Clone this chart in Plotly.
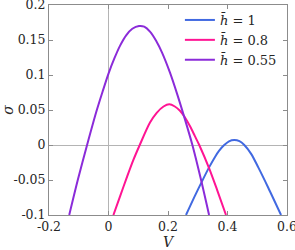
import plotly.graph_objects as go

# --- data ---
V_h1 = [0.2605, 0.29, 0.313, 0.338, 0.358, 0.372, 0.389, 0.405, 0.4228, 0.44, 0.4565, 0.48, 0.5035, 0.537, 0.58]
S_h1 = [-0.1, -0.073, -0.053, -0.032, -0.017, -0.008, 0.0, 0.0053, 0.0071, 0.0055, 0.0, -0.013, -0.032, -0.061, -0.1]

V_h08 = [0.0165, 0.04, 0.061, 0.083, 0.105, 0.1395, 0.162, 0.185, 0.2044, 0.223, 0.2403, 0.256, 0.275, 0.29, 0.305, 0.338, 0.365, 0.395]
S_h08 = [-0.1, -0.072, -0.047, -0.022, 0.0, 0.032, 0.046, 0.055, 0.0581, 0.055, 0.049, 0.04, 0.026, 0.013, 0.0, -0.033, -0.064, -0.1]

V_h055 = [-0.132, -0.102, -0.072, -0.042, -0.02, 0.0, 0.02, 0.039, 0.06, 0.08, 0.1025, 0.12, 0.1395, 0.16, 0.18, 0.207, 0.2314, 0.256, 0.282, 0.31, 0.338]
S_h055 = [-0.1, -0.048, 0.0, 0.046, 0.076, 0.102, 0.124, 0.142, 0.157, 0.166, 0.17, 0.169, 0.162, 0.149, 0.132, 0.103, 0.072, 0.038, 0.0, -0.048, -0.1]

names = ["<i>h̄</i> = 1", "<i>h̄</i> = 0.8", "<i>h̄</i> = 0.55"]
colors = ["#4169E1", "#FF1493", "#8B2BD9"]

x_ticks = [-0.2, 0, 0.2, 0.4, 0.6]
x_labels = ["-0.2", "0", "0.2", "0.4", "0.6"]
y_ticks = [-0.1, -0.05, 0, 0.05, 0.1, 0.15, 0.2]
y_labels = ["-0.1", "-0.05", "0", "0.05", "0.1", "0.15", "0.2"]

FONT = "DejaVu Serif"

fig = go.Figure()
for xs, ys, nm, c in zip([V_h1, V_h08, V_h055], [S_h1, S_h08, S_h055], names, colors):
    fig.add_trace(go.Scatter(x=xs, y=ys, mode="lines", name=nm,
                             line=dict(color=c, width=2, shape="spline", smoothing=0.8)))

axis_common = dict(showgrid=False, showline=True, linecolor="#8c8c8c", linewidth=1,
                   mirror="ticks", ticks="inside", ticklen=4, tickcolor="#8c8c8c",
                   zeroline=True, zerolinecolor="#b4b4b4", zerolinewidth=1,
                   automargin=False, ticklabeloverflow="allow",
                   tickfont=dict(family=FONT, size=12.5, color="#262626"))

fig.update_layout(
    width=295, height=250,
    margin=dict(l=49, r=8, t=5, b=35),
    paper_bgcolor="white", plot_bgcolor="white",
    font=dict(family=FONT, size=13, color="#262626"),
    xaxis=dict(range=[-0.2, 0.6], tickvals=x_ticks, ticktext=x_labels,
               title=dict(text="<i>V</i>", standoff=5, font=dict(family=FONT, size=14)),
               **axis_common),
    yaxis=dict(range=[-0.1, 0.2], tickvals=y_ticks, ticktext=y_labels,
               title=dict(text="<i>σ</i>", standoff=0, font=dict(family=FONT, size=14)),
               **axis_common),
    legend=dict(x=0.55, y=1.0, xanchor="left", yanchor="top", bgcolor="rgba(0,0,0,0)",
                itemwidth=30, tracegroupgap=0, font=dict(family=FONT, size=13),
                traceorder="normal"),
    showlegend=True,
)

fig.write_html("out.html", config={"displayModeBar": False},
               post_script="document.body.style.margin='0';document.body.style.padding='0';")
